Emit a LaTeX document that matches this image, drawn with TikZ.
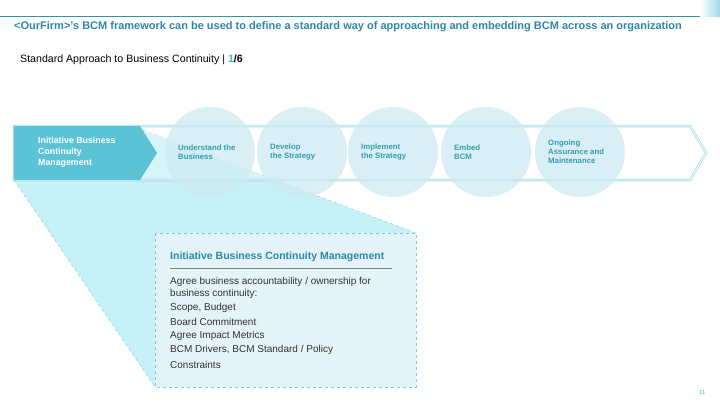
\documentclass[tikz,border=0pt]{standalone}
\usepackage{fontspec}
\setmainfont{Liberation Sans}
\usetikzlibrary{positioning}
\definecolor{teal1}{HTML}{3FB8CF}
\definecolor{title1}{HTML}{2F86A6}
\definecolor{band1}{HTML}{A6DCE8}
\definecolor{circ1}{HTML}{CDEBF2}
\definecolor{box1}{HTML}{E4F3F8}
\definecolor{wedge1}{HTML}{C6F1F6}
\tikzset{
  stagelabel/.style={font=\bfseries\fontsize{7.8}{9}\selectfont, text=teal1!85!black, align=left, anchor=west, inner sep=0pt},
  item/.style={font=\fontsize{10}{11}\selectfont, text=black!80, anchor=west, inner sep=0pt}
}
\begin{document}
\begin{tikzpicture}[x=1pt,y=-1pt]
        \useasboundingbox (0,0) rectangle (720,405);
        % header
        \shade[left color=white, right color=teal1!50] (700,0) rectangle (720,16);
        \draw[teal1!80!black, line width=0.8pt] (0,16) -- (700,16);
        \node[anchor=west, inner sep=0pt, text=title1, font=\bfseries\fontsize{11}{13}\selectfont] (title) at (14,27)
            {<OurFirm>'s BCM framework can be used to define a standard way of approaching and embedding BCM across an organization};
        \node[anchor=west, inner sep=0pt, font=\fontsize{10.6}{12}\selectfont] (sub) at (20,60)
            {Standard Approach to Business Continuity | \textcolor{teal1}{\bfseries 1}\textbf{/6}};
        % callout wedge
        \fill[wedge1] (14,180) -- (132,126) -- (416,233) -- (155,387) -- cycle;
        \draw[teal1!70, dashed] (14,180) -- (155,387);
        \draw[teal1!70, dashed] (132,126) -- (416,233);
        % band
        \draw[band1, line width=2.5pt, fill=white, fill opacity=0.3] (14,126) -- (690,126) -- (706,153) -- (690,180) -- (14,180) -- cycle;
        \draw[white, line width=0.8pt] (14,126) -- (690,126) -- (706,153) -- (690,180) -- (14,180);
        \fill[teal1!85] (14,126) -- (140,126) -- (157,153) -- (140,180) -- (14,180) -- cycle;
        \node[anchor=west, inner sep=0pt, align=left, text=white, font=\bfseries\fontsize{8.8}{11}\selectfont] (s0) at (38,152)
            {Initiative Business\\Continuity\\Management};
        % steps
        \foreach \x/\n/\t in {210/s1/{Understand the\\Business}, 302/s2/{Develop\\the Strategy},
                              393/s3/{Implement\\the Strategy}, 486/s4/{Embed\\BCM},
                              580/s5/{Ongoing\\Assurance and\\Maintenance}} {
            \fill[circ1, opacity=0.75] (\x,152) circle[radius=45];
            \node[stagelabel] (\n) at (\x-32,152) {\t};
        }
        % detail box
        \draw[teal1!70, dashed, fill=box1] (155,233) rectangle (416,387);
        \node[anchor=west, inner sep=0pt, text=title1, font=\bfseries\fontsize{10.5}{12}\selectfont] (head) at (170,257)
            {Initiative Business Continuity Management};
        \draw[black!50, line width=0.4pt] (170,268) -- (392,268);
        \node[item] (i1) at (170,282) {Agree business accountability / ownership for};
        \node[item] (i2) at (170,294) {business continuity:};
        \node[item] (i3) at (170,308) {Scope, Budget};
        \node[item] (i4) at (170,322) {Board Commitment};
        \node[item] (i5) at (170,336) {Agree Impact Metrics};
        \node[item] (i6) at (170,350) {BCM Drivers, BCM Standard / Policy};
        \node[item] (i7) at (170,365) {Constraints};
        \node[anchor=west, inner sep=0pt, text=teal1, font=\fontsize{6}{7}\selectfont] (pg) at (699,392) {11};
\end{tikzpicture}
\end{document}
